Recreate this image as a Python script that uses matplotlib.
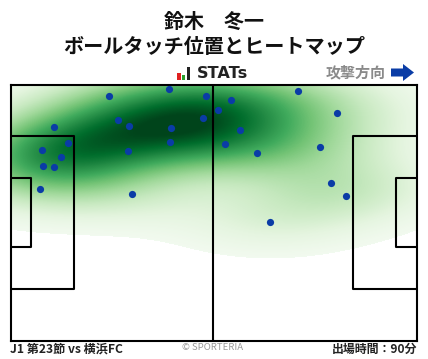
import numpy as np
import matplotlib
matplotlib.use('Agg')
import matplotlib.pyplot as plt
from matplotlib.patches import Rectangle, Polygon

plt.rcParams['font.family'] = ['Noto Sans CJK JP', 'DejaVu Sans']

# touch positions (pixels)
touch_x = [109.3, 169.3, 206.3, 54.3, 118.3, 129.3, 203.3, 171.3, 170.3, 68.3, 42.3, 61.3, 128.3, 43.3,
           54.3, 40.3, 132.3, 298.3, 231.3, 218.3, 337.3, 240.3, 225.3, 257.3, 320.3, 331.3, 346.3, 270.3]
touch_y = [96.3, 89.3, 96.3, 127.3, 120.3, 126.3, 118.3, 128.3, 142.3, 143.3, 150.3, 157.3, 151.3, 166.3,
           167.3, 189.3, 194.3, 91.3, 100.3, 110.3, 113.3, 130.3, 144.3, 153.3, 147.3, 183.3, 196.3, 222.3]

title_name = '鈴木　冬一'
title_sub = 'ボールタッチ位置とヒートマップ'
direction_label = '攻撃方向'
match_label = 'J1 第23節 vs 横浜FC'
minutes_label = '出場時間：90分'
credit_label = '© SPORTERIA'

W, H = 428, 359
L, R, T, B = 10.5, 416.5, 84.5, 340.5

fig = plt.figure(figsize=(W / 100, H / 100), dpi=100)
ax = fig.add_axes([L / W, 1 - B / H, (R - L) / W, (B - T) / H])
ax.set_xlim(L, R)
ax.set_ylim(B, T)
ax.set_xticks([])
ax.set_yticks([])

# density of the touches
tx = np.array(touch_x)
ty = np.array(touch_y)
gx, gy = np.meshgrid(np.linspace(L, R, 406), np.linspace(T, B, 256))
cov = np.cov(tx, ty) * len(tx) ** (-1 / 3) * 1.35
inv = np.linalg.inv(cov)
dens = np.zeros_like(gx)
for px, py in zip(tx, ty):
    dx = gx - px
    dy = gy - py
    dens += np.exp(-0.5 * (inv[0, 0] * dx * dx + 2 * inv[0, 1] * dx * dy + inv[1, 1] * dy * dy))
dens = dens / dens.max()
dens = np.ma.masked_less(dens, 0.035)
ax.imshow(dens, cmap='Greens', vmin=0, vmax=0.97, extent=(L, R, B, T), aspect='auto', interpolation='bilinear', zorder=1)

# pitch lines
lw = 1.5
ax.plot([213, 213], [T, B], color='k', lw=lw, zorder=2)
ax.plot([L, 74, 74, L], [136, 136, 289, 289], color='k', lw=lw, zorder=2)
ax.plot([L, 31, 31, L], [178, 178, 247, 247], color='k', lw=lw, zorder=2)
ax.plot([R, 353, 353, R], [136, 136, 289, 289], color='k', lw=lw, zorder=2)
ax.plot([R, 396, 396, R], [178, 178, 247, 247], color='k', lw=lw, zorder=2)
for s in ax.spines.values():
    s.set_linewidth(lw)
    s.set_zorder(3)

ax.scatter(touch_x, touch_y, s=27, color='#0a3ca6', linewidths=0, zorder=4, clip_on=False)


def fx(x):
    return x / W


def fy(y):
    return 1 - y / H


fig.text(fx(214), fy(21.5), title_name, ha='center', va='center', fontsize=14.4, fontweight='bold', color='#111111')
fig.text(fx(214), fy(46.5), title_sub, ha='center', va='center', fontsize=14.5, fontweight='bold', color='#111111')
fig.text(fx(385.5), fy(72), direction_label, ha='right', va='center', fontsize=10.8, fontweight='bold', color='#8a8a8a')
fig.text(fx(197), fy(74), 'STATs', ha='left', va='center', fontsize=11.6, fontweight='bold', color='#222222',
         family=['DejaVu Sans'])
fig.text(fx(10), fy(349.5), match_label, ha='left', va='center', fontsize=8.7, fontweight='bold', color='#222222')
fig.text(fx(417), fy(349.5), minutes_label, ha='right', va='center', fontsize=8.6, fontweight='bold', color='#222222')
fig.text(fx(213), fy(348), credit_label, ha='center', va='center', fontsize=6.9, color='#999999')

# small logo bars
for x0, top, col in [(177, 73, '#e02020'), (181.7, 75, '#2ca02c'), (186.7, 67, '#222222')]:
    fig.patches.append(Rectangle((fx(x0), fy(80)), 3.6 / W, (80 - top) / H, transform=fig.transFigure, color=col, lw=0))

# attack direction arrow
arrow = [(391, 68.5), (403, 68.5), (403, 64), (414, 72.5), (403, 81), (403, 76.5), (391, 76.5)]
fig.patches.append(Polygon([(fx(a), fy(b)) for a, b in arrow], transform=fig.transFigure, color='#0a3ca6', lw=0))

fig.savefig('out.png', dpi=100)
